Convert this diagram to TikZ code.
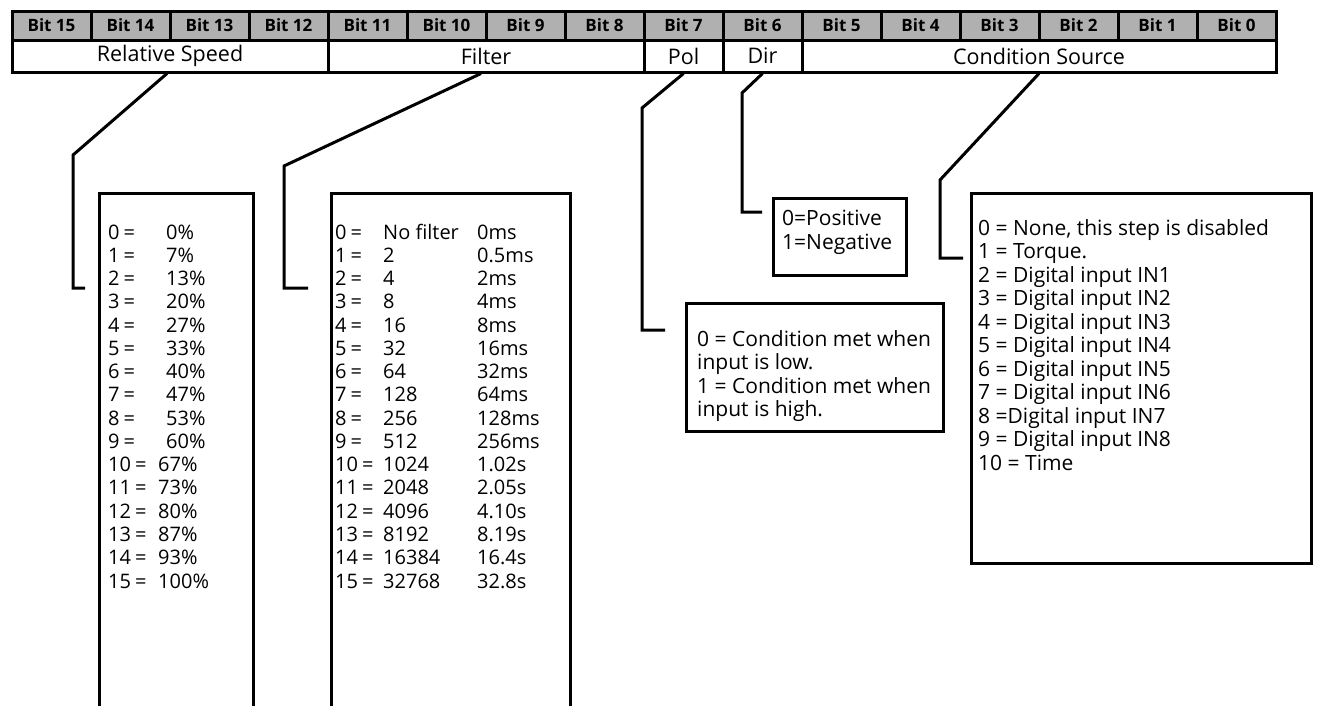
\documentclass[tikz,border=0pt]{standalone}
\usepackage{fontspec}
\setmainfont{Open Sans}
\definecolor{hdrgray}{RGB}{176,176,176}
\begin{document}
\begin{tikzpicture}[x=1pt,y=-1pt,
  hdr/.style={draw, line width=3pt, fill=hdrgray, minimum width=79pt, minimum height=29pt, inner sep=0pt, font=\bfseries\fontsize{17}{20}\selectfont},
  fld/.style={draw, line width=3pt, fill=white, minimum height=32pt, inner sep=0pt, font=\fontsize{21.5}{24}\selectfont},
  box/.style={draw, line width=3pt, inner sep=0pt, anchor=north west},
  con/.style={line width=3pt, line join=miter},
  txt/.style={anchor=base west, inner sep=0pt, font=\fontsize{21}{24}\selectfont},
  key/.style={anchor=base west, inner sep=0pt, font=\fontsize{20}{24}\selectfont}]
\useasboundingbox (0,0) rectangle (1327,705);
\clip (0,0) rectangle (1327,705);
% header bits
\foreach \k in {0,...,15}{
  \pgfmathtruncatemacro\b{15-\k}
  \node[hdr] (b\b) at ({12+79*\k+39.5},25.5) {Bit \b};
}
% fields
\node[fld, minimum width=316pt] (rs) at (170,56) {Relative Speed};
\node[fld, minimum width=316pt] (filt) at (486,56) {Filter};
\node[fld, minimum width=79pt] (pol) at (683.5,56) {Pol};
\node[fld, minimum width=79pt] (dir) at (762.5,56) {Dir};
\node[fld, minimum width=474pt] (cs) at (1039,56) {Condition Source};
% boxes
\node[box, minimum width=154pt, minimum height=560pt] (spdbox) at (98,192) {};
\node[box, minimum width=239pt, minimum height=560pt] (filtbox) at (330,192) {};
\node[box, minimum width=257pt, minimum height=128pt] (polbox) at (685,302) {};
\node[box, minimum width=133pt, minimum height=77pt] (dirbox) at (772,197) {};
\node[box, minimum width=340pt, minimum height=370pt] (csbox) at (970,192) {};
% connectors
\coordinate (rsb) at (73,155); \coordinate (rse) at (85,288);
\coordinate (fib) at (284,166); \coordinate (fie) at (308,288);
\coordinate (pob) at (642,108); \coordinate (poe) at (665,330);
\coordinate (dib) at (742,93);  \coordinate (die) at (762,212);
\coordinate (csb) at (940,180); \coordinate (cse) at (963,258);
\draw[con] ([xshift=-3pt]rs.south) -- (rsb) |- (rse);
\draw[con] ([xshift=-5pt]filt.south) -- (fib) |- (fie);
\draw[con] (pol.south) -- (pob) |- (poe);
\draw[con] (dir.south) -- (dib) |- (die);
\draw[con] (cs.south) -- (csb) |- (cse);
% speed list
\foreach \v [count=\i from 0] in {0\%,7\%,13\%,20\%,27\%,33\%,40\%,47\%,53\%,60\%,67\%,73\%,80\%,87\%,93\%,100\%}{
  \node[key] (sk\i) at (108,{239+23.27*\i}) {\i\hspace{0.2em}=};
  \node[key] (sv\i) at ({\i<10 ? 166 : 158},{239+23.27*\i}) {\v};
}
% filter list
\foreach \a/\c [count=\i from 0] in {No filter/0ms,2/0.5ms,4/2ms,8/4ms,16/8ms,32/16ms,64/32ms,128/64ms,256/128ms,512/256ms,1024/1.02s,2048/2.05s,4096/4.10s,8192/8.19s,16384/16.4s,32768/32.8s}{
  \node[key] (fk\i) at (335,{239+23.27*\i}) {\i\hspace{0.2em}=};
  \node[key] (fa\i) at (383,{239+23.27*\i}) {\a};
  \node[key] (fc\i) at (477,{239+23.27*\i}) {\c};
}
% dir text
\node[txt] (d0) at (782,225) {0=Positive};
\node[txt] (d1) at (782,249) {1=Negative};
% pol text
\node[txt] (p0) at (697,346) {0 = Condition met when};
\node[txt] (p1) at (697,369) {input is low.};
\node[txt] (p2) at (697,393) {1 = Condition met when};
\node[txt] (p3) at (697,416) {input is high.};
% condition source text
\foreach \t [count=\i from 0] in {0 = None{,} this step is disabled,1 = Torque.,2 = Digital input IN1,3 = Digital input IN2,4 = Digital input IN3,5 = Digital input IN4,6 = Digital input IN5,7 = Digital input IN6,8 =Digital input IN7,9 = Digital input IN8,10 = Time}{
  \node[txt] (c\i) at (978,{235+23.5*\i}) {\t};
}
\end{tikzpicture}
\end{document}
